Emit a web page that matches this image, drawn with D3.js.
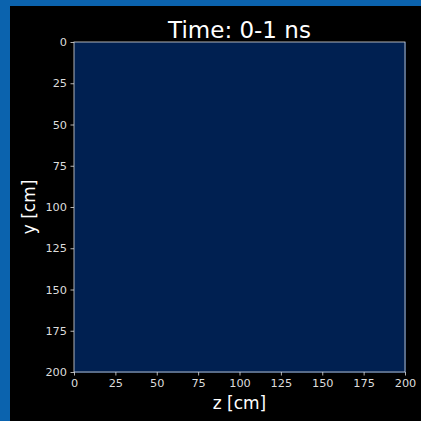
<!DOCTYPE html>
<html><head><meta charset="utf-8">
<script src="https://cdn.jsdelivr.net/npm/d3@7"></script>
<style>
html,body{margin:0;padding:0;background:#000;}
svg{display:block;font-family:"DejaVu Sans",sans-serif;}
</style></head>
<body>
<svg id="c" width="421" height="421"></svg>
<script>
const title = "Time: 0-1 ns";
const xLabel = "z [cm]";
const yLabel = "y [cm]";
const xTicks = [0,25,50,75,100,125,150,175,200];
const yTicks = [0,25,50,75,100,125,150,175,200];
const zEdges = [0,20,40,60,80,100,120,140,160,180,200];
const yEdges = [0,20,40,60,80,100,120,140,160,180,200];
// energy deposited in each cell during the interval (all zero)
const cellValues = [
 [0,0,0,0,0,0,0,0,0,0],[0,0,0,0,0,0,0,0,0,0],[0,0,0,0,0,0,0,0,0,0],
 [0,0,0,0,0,0,0,0,0,0],[0,0,0,0,0,0,0,0,0,0],[0,0,0,0,0,0,0,0,0,0],
 [0,0,0,0,0,0,0,0,0,0],[0,0,0,0,0,0,0,0,0,0],[0,0,0,0,0,0,0,0,0,0],
 [0,0,0,0,0,0,0,0,0,0]
];

const svg = d3.select("#c");
svg.append("rect").attr("x",0).attr("y",0).attr("width",421).attr("height",421).attr("fill","#0b63ae");
svg.append("rect").attr("x",10).attr("y",6).attr("width",411).attr("height",415).attr("fill","#000");

const L=74, T=42, R=405, B=372;
const x = d3.scaleLinear().domain([0,200]).range([L,R]);
const y = d3.scaleLinear().domain([0,200]).range([T,B]);
const color = d3.scaleSequential(d3.interpolateCividis).domain([0,1]);

const cells = [];
cellValues.forEach((row,i)=>row.forEach((v,j)=>cells.push({i,j,v})));
svg.append("g").attr("shape-rendering","crispEdges").selectAll("rect").data(cells).join("rect")
  .attr("x",d=>x(zEdges[d.j])).attr("y",d=>y(yEdges[d.i]))
  .attr("width",d=>x(zEdges[d.j+1])-x(zEdges[d.j])+1)
  .attr("height",d=>y(yEdges[d.i+1])-y(yEdges[d.i])+1)
  .attr("fill",d=>color(d.v));

const gx = svg.append("g").attr("transform",`translate(0,${B})`)
  .call(d3.axisBottom(x).tickValues(xTicks).tickSize(3.5).tickPadding(3.5));
const gy = svg.append("g").attr("transform",`translate(${L},0)`)
  .call(d3.axisLeft(y).tickValues(yTicks).tickSize(3.5).tickPadding(3.5));
[gx,gy].forEach(g=>{
  g.select(".domain").remove();
  g.selectAll("line").attr("stroke","#ddd").attr("stroke-width",0.8);
  g.selectAll("text").attr("fill","#ddd").attr("font-size",11.3).attr("font-family","DejaVu Sans");
});
svg.append("rect").attr("x",L).attr("y",T).attr("width",R-L).attr("height",B-T)
  .attr("fill","none").attr("stroke","#ddd").attr("stroke-width",0.8);

svg.append("text").attr("x",(L+R)/2).attr("y",37.5).attr("text-anchor","middle")
  .attr("fill","#fff").attr("font-size",23).text(title);
svg.append("text").attr("x",(L+R)/2).attr("y",409).attr("text-anchor","middle")
  .attr("fill","#fff").attr("font-size",17).text(xLabel);
svg.append("text").attr("transform",`translate(35,${(T+B)/2}) rotate(-90)`).attr("text-anchor","middle")
  .attr("fill","#fff").attr("font-size",17).text(yLabel);
</script>
</body></html>
